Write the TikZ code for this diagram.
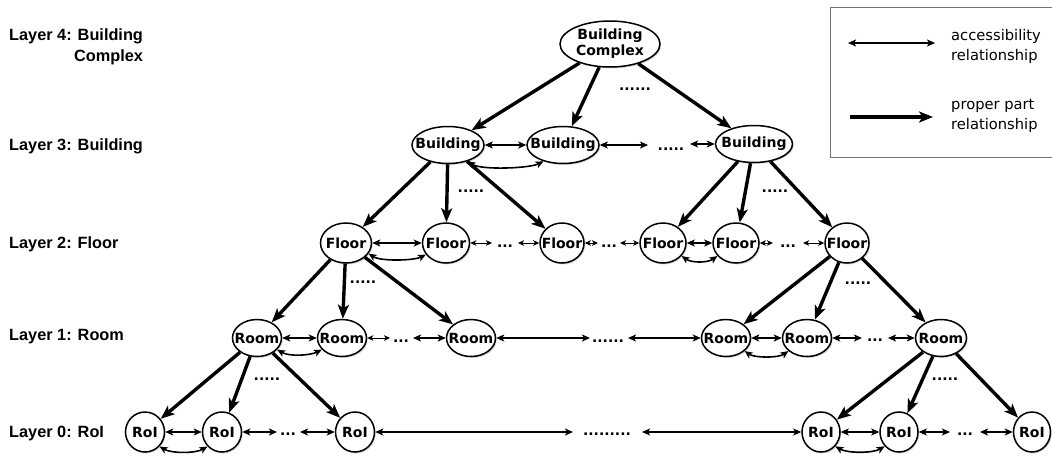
\documentclass[tikz,border=0pt]{standalone}
\usepackage{fontspec}
\setmainfont{DejaVu Sans}
\newfontfamily\layerfont{Liberation Sans}
\usetikzlibrary{arrows.meta,shapes.geometric,shadows}
\begin{document}
\begin{tikzpicture}[x=1pt,y=-1pt,
  ent/.style={ellipse,draw,line width=1.5pt,fill=white,inner sep=0pt,
    drop shadow={shadow xshift=1.2pt,shadow yshift=-1.4pt,opacity=0.35}},
  every label/.style={font=\fontsize{14}{16}\selectfont\bfseries,inner sep=0pt,align=center},
  part/.style={line width=3.4pt,-{Stealth[length=14pt,width=11pt,inset=3.5pt]}},
  acc/.style={line width=1.6pt,{Stealth[length=8pt,width=7pt,inset=2pt]}-{Stealth[length=8pt,width=7pt,inset=2pt]}},
  accthin/.style={line width=1pt,{Stealth[length=6pt,width=5.5pt,inset=1.5pt]}-{Stealth[length=6pt,width=5.5pt,inset=1.5pt]}},
  dotsn/.style={font=\fontsize{14}{16}\selectfont\bfseries,inner sep=0pt,anchor=base},
  layer/.style={font=\layerfont\fontsize{16.3}{21}\selectfont\bfseries,inner sep=0pt,align=right},
  legtext/.style={font=\fontsize{14.7}{20}\selectfont,inner sep=0pt,align=left,anchor=west}]
\useasboundingbox (0,0) rectangle (1052,456);

% layer labels
\node[layer,anchor=north west] (L4) at (9,28) {Layer 4: Building\\Complex};
\node[layer,anchor=west] (L3) at (9,146) {Layer 3: Building};
\node[layer,anchor=west] (L2) at (9,244) {Layer 2: Floor};
\node[layer,anchor=west] (L1) at (9,337) {Layer 1: Room};
\node[layer,anchor=west] (L0) at (9,433) {Layer 0: RoI};

% legend
\draw[black!55,line width=1pt] (830,7) rectangle (1080,157);
\coordinate (la1) at (848,43); \coordinate (la2) at (935,43);
\draw[acc] (la1) -- (la2);
\node[legtext] (lt1) at (951,46) {accessibility\\relationship};
\coordinate (lp1) at (850,117); \coordinate (lp2) at (933,117);
\draw[part] (lp1) -- (lp2);
\node[legtext] (lt2) at (951,116) {proper part\\relationship};

% layer 4
\node[ent,minimum width=100pt,minimum height=46pt,label={center:Building\\Complex}] (bc) at (610,44) {};
% layer 3
\node[ent,minimum width=72pt,minimum height=37pt,label=center:Building] (b1) at (448,145) {};
\node[ent,minimum width=72pt,minimum height=37pt,label=center:Building] (b2) at (563,145) {};
\node[ent,minimum width=77pt,minimum height=37pt,label=center:Building] (b3) at (754,144) {};
% layer 2
\node[ent,minimum width=51pt,minimum height=40pt,label=center:Floor] (f1) at (346,243) {};
\node[ent,minimum width=47pt,minimum height=40pt,label=center:Floor] (f2) at (446,243) {};
\node[ent,minimum width=44pt,minimum height=40pt,label=center:Floor] (f3) at (562,243) {};
\node[ent,minimum width=46pt,minimum height=40pt,label=center:Floor] (f4) at (663,243) {};
\node[ent,minimum width=46pt,minimum height=40pt,label=center:Floor] (f5) at (736,243) {};
\node[ent,minimum width=44pt,minimum height=40pt,label=center:Floor] (f6) at (847,243) {};
% layer 1
\node[ent,minimum width=49pt,minimum height=37pt,label=center:Room] (r1) at (257,338) {};
\node[ent,minimum width=49pt,minimum height=37pt,label=center:Room] (r2) at (342,338) {};
\node[ent,minimum width=49pt,minimum height=37pt,label=center:Room] (r3) at (471,338) {};
\node[ent,minimum width=49pt,minimum height=37pt,label=center:Room] (r4) at (726,338) {};
\node[ent,minimum width=49pt,minimum height=37pt,label=center:Room] (r5) at (807,338) {};
\node[ent,minimum width=51pt,minimum height=37pt,label=center:Room] (r6) at (941,338) {};
% layer 0
\node[ent,minimum width=39pt,minimum height=40pt,label=center:RoI] (i1) at (145,432) {};
\node[ent,minimum width=39pt,minimum height=40pt,label=center:RoI] (i2) at (222,432) {};
\node[ent,minimum width=39pt,minimum height=40pt,label=center:RoI] (i3) at (355,432) {};
\node[ent,minimum width=38pt,minimum height=40pt,label=center:RoI] (i4) at (821,432) {};
\node[ent,minimum width=38pt,minimum height=40pt,label=center:RoI] (i5) at (899,432) {};
\node[ent,minimum width=37pt,minimum height=40pt,label=center:RoI] (i6) at (1032,432) {};

% proper part relations
\draw[part] (bc) -- (b1); \draw[part] (bc) -- (b2); \draw[part] (bc) -- (b3);
\draw[part] (b1) -- (f1); \draw[part] (b1) -- (f2); \draw[part] (b1) -- (f3);
\draw[part] (b3) -- (f4); \draw[part] (b3) -- (f5); \draw[part] (b3) -- (f6);
\draw[part] (f1) -- (r1); \draw[part] (f1) -- (r2); \draw[part] (f1) -- (r3);
\draw[part] (f6) -- (r4); \draw[part] (f6) -- (r5); \draw[part] (f6) -- (r6);
\draw[part] (r1) -- (i1); \draw[part] (r1) -- (i2); \draw[part] (r1) -- (i3);
\draw[part] (r6) -- (i4); \draw[part] (r6) -- (i5); \draw[part] (r6) -- (i6);

% dots under fans
\node[dotsn] (db) at (635,90) {......};
\node[dotsn] (db1) at (471,192) {.....};
\node[dotsn] (db3) at (775,192) {.....};
\node[dotsn] (df1) at (363,283) {.....};
\node[dotsn] (df6) at (858,284) {.....};
\node[dotsn] (dr1) at (267,380) {.....};
\node[dotsn] (dr6) at (945,380) {.....};

% layer 3 accessibility
\draw[acc] (b1) -- (b2);
\draw[acc] (b1.-40) .. controls +(14,9) and +(-14,7) .. (b2.-140);
\coordinate (c3a) at (648,145); \coordinate (c3b) at (690,144);
\draw[acc] (b2) -- (c3a);
\node[dotsn] (d3) at (671,150) {.....};
\draw[acc] (c3b) -- (b3);

% layer 2 accessibility
\draw[acc] (f1) -- (f2);
\draw[acc] (f1.-25) .. controls +(12,8) and +(-12,6) .. (f2.-150);
\coordinate (c2a) at (492,243); \coordinate (c2b) at (518,243);
\draw[accthin] (f2) -- (c2a);
\node[dotsn] (d2a) at (505,247) {...};
\draw[accthin] (c2b) -- (f3);
\coordinate (c2c) at (598,243); \coordinate (c2d) at (620,243);
\draw[accthin] (f3) -- (c2c);
\node[dotsn] (d2b) at (609,247) {...};
\draw[accthin] (c2d) -- (f4);
\draw[acc] (f4) -- (f5);
\draw[acc] (f4.-35) .. controls +(10,7) and +(-10,7) .. (f5.-145);
\coordinate (c2e) at (773,243); \coordinate (c2f) at (803,243);
\draw[accthin] (f5) -- (c2e);
\node[dotsn] (d2c) at (788,247) {...};
\draw[accthin] (c2f) -- (f6);

% layer 1 accessibility
\draw[acc] (r1) -- (r2);
\draw[acc] (r1.-30) .. controls +(12,7) and +(-12,6) .. (r2.-150);
\coordinate (c1a) at (390,338); \coordinate (c1b) at (413,338);
\draw[accthin] (r2) -- (c1a);
\node[dotsn] (d1a) at (401,342) {...};
\draw[acc] (c1b) -- (r3);
\coordinate (c1c) at (590,338); \coordinate (c1d) at (628,338);
\draw[acc] (r3) -- (c1c);
\node[dotsn] (d1b) at (608,342) {......};
\draw[acc] (c1d) -- (r4);
\draw[acc] (r4) -- (r5);
\draw[acc] (r4.-35) .. controls +(10,7) and +(-10,7) .. (r5.-145);
\coordinate (c1e) at (862,338); \coordinate (c1f) at (888,338);
\draw[acc] (r5) -- (c1e);
\node[dotsn] (d1c) at (875,341) {...};
\draw[acc] (c1f) -- (r6);

% layer 0 accessibility
\draw[acc] (i1) -- (i2);
\draw[acc] (i1.-45) .. controls +(12,7) and +(-12,7) .. (i2.-135);
\coordinate (c0a) at (277,432); \coordinate (c0b) at (300,432);
\draw[acc] (i2) -- (c0a);
\node[dotsn] (d0a) at (288,435) {...};
\draw[acc] (c0b) -- (i3);
\coordinate (c0c) at (573,432); \coordinate (c0d) at (642,432);
\draw[acc] (i3) -- (c0c);
\node[dotsn] (d0b) at (607,435) {.........};
\draw[acc] (c0d) -- (i4);
\draw[acc] (i4) -- (i5);
\draw[acc] (i4.-45) .. controls +(12,7) and +(-12,7) .. (i5.-135);
\coordinate (c0e) at (950,432); \coordinate (c0f) at (980,432);
\draw[acc] (i5) -- (c0e);
\node[dotsn] (d0c) at (965,435) {...};
\draw[acc] (c0f) -- (i6);
\end{tikzpicture}
\end{document}
